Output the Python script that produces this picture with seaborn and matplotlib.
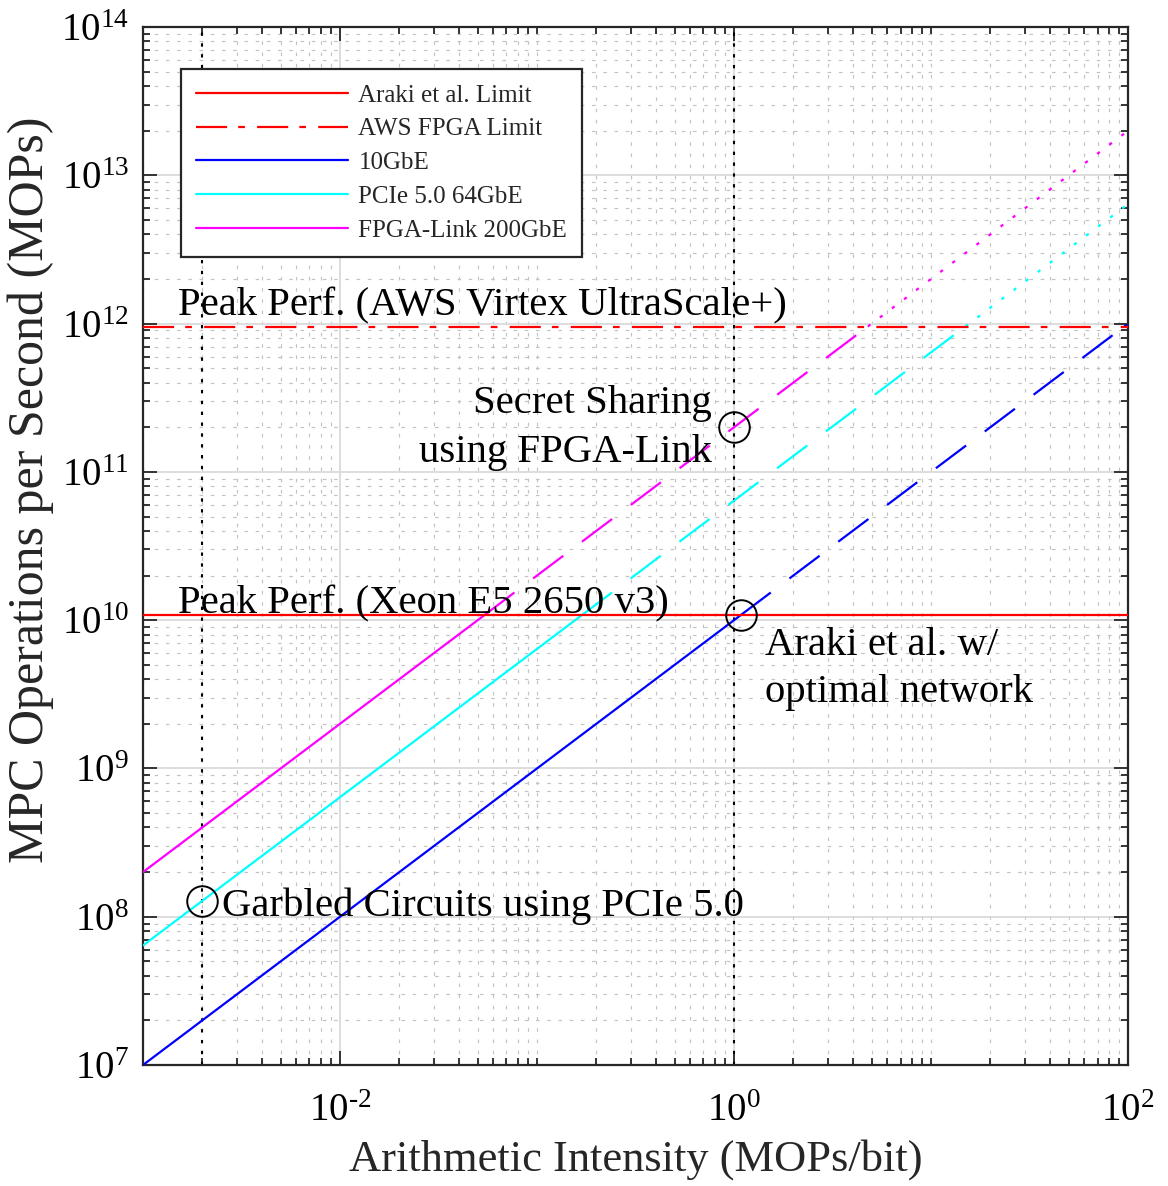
import numpy as np
import pandas as pd
import matplotlib
matplotlib.use('Agg')
import matplotlib.pyplot as plt
import matplotlib.ticker as mticker
from matplotlib.lines import Line2D
import seaborn as sns

# axis ranges
x_range = [1e-3, 1e2]
y_range = [1e7, 1e14]

# network roofline end points (value at x=1e-3 and at x=1e2)
network_names = ['10GbE', 'PCIe 5.0 64GbE', 'FPGA-Link 200GbE']
network_colors = ['#0000ff', '#00ffff', '#ff00ff']
network_y_start = [1e7, 6.4e7, 2e8]
network_y_end = [1e12, 6.4e12, 2e13]

# compute ceilings
araki_limit = 1.08e10
aws_limit = 9.55e11

# highlighted points and reference verticals
marker_x = [2e-3, 1.0, 1.08]
marker_y = [1.28e8, 2e11, 1.08e10]
vline_x = [2e-3, 1.0]


def cross_x(x0, y0, x1, y1, level):
    # x where the straight log-log line reaches a given y level
    t = np.log10(level / y0) / np.log10(y1 / y0)
    return 10 ** (np.log10(x0) + t * (np.log10(x1) - np.log10(x0)))


def build_segments():
    rows = []
    for name, y0, y1 in zip(network_names, network_y_start, network_y_end):
        x0, x1 = x_range
        xa = cross_x(x0, y0, x1, y1, araki_limit)
        xb = min(cross_x(x0, y0, x1, y1, aws_limit), x1)
        pieces = [(x0, xa, 'solid'), (xa, xb, 'dashed')]
        if xb < x1:
            pieces.append((xb, x1, 'dotted'))
        for i, (sa, sb, kind) in enumerate(pieces):
            for xx in (sa, sb):
                yy = 10 ** (np.log10(y0) + np.log10(xx / x0) / np.log10(x1 / x0) * np.log10(y1 / y0))
                rows.append({'network': name, 'seg': name + str(i), 'kind': kind, 'x': xx, 'y': yy})
    return pd.DataFrame(rows)


def pow_label(v, pos):
    e = int(round(np.log10(v)))
    if e < 0:
        return r'$10^{\text{-}%d}$' % (-e)
    return r'$10^{%d}$' % e


if __name__ == '__main__':
    sns.set_style('ticks')
    plt.rcParams['font.family'] = ['Liberation Serif', 'DejaVu Serif']
    plt.rcParams['mathtext.fontset'] = 'custom'
    plt.rcParams['mathtext.rm'] = 'Liberation Serif'
    plt.rcParams['mathtext.it'] = 'Liberation Serif:italic'
    plt.rcParams['mathtext.default'] = 'regular'

    fig = plt.figure(figsize=(11.68, 11.86), dpi=100)
    ax = fig.add_axes([0.1224, 0.1020, 0.8434, 0.8752])
    ax.set_xscale('log')
    ax.set_yscale('log')

    df = build_segments()
    sns.lineplot(data=df, x='x', y='y', hue='network', style='kind', units='seg',
                 estimator=None, sort=False, palette=dict(zip(network_names, network_colors)),
                 dashes={'solid': '', 'dashed': (17, 10.5), 'dotted': (1.5, 5.3)},
                 linewidth=1.6, legend=False, ax=ax, zorder=3)

    ax.axhline(araki_limit, color='#ff0000', lw=1.6, zorder=3)
    ax.axhline(aws_limit, color='#ff0000', lw=1.6, dashes=(14, 5, 3, 5.5), zorder=3)
    for xv in vline_x:
        ax.axvline(xv, color='black', lw=1.5, dashes=(1.6, 3.6), zorder=2)

    ax.plot(marker_x, marker_y, 'o', mfc='none', mec='black', ms=22, mew=1.4, ls='none', zorder=4)

    txt = dict(fontsize=29.3, color='black', zorder=5)
    ax.text(1.5e-3, 1.14e12, 'Peak Perf. (AWS Virtex UltraScale+)', ha='left', va='baseline', **txt)
    ax.text(1.5e-3, 1.11e10, 'Peak Perf. (Xeon E5 2650 v3)', ha='left', va='baseline', **txt)
    ax.text(0.773, 2.49e11, 'Secret Sharing', ha='right', va='baseline', **txt)
    ax.text(0.773, 1.165e11, 'using FPGA-Link', ha='right', va='baseline', **txt)
    ax.text(1.436, 5.82e9, 'Araki et al. w/', ha='left', va='baseline', **txt)
    ax.text(1.436, 2.8e9, 'optimal network', ha='left', va='baseline', **txt)
    ax.text(2.52e-3, 1.01e8, 'Garbled Circuits using PCIe 5.0', ha='left', va='baseline', **txt)

    ax.set_xlim(x_range)
    ax.set_ylim(y_range)

    x_major = [1e-2, 1e0, 1e2]
    x_minor = [k * 10.0 ** n for n in range(-3, 2) for k in range(1, 10) if k * 10.0 ** n not in x_major]
    y_major = [10.0 ** n for n in range(7, 15)]
    y_minor = [k * 10.0 ** n for n in range(7, 14) for k in range(2, 10)]
    ax.xaxis.set_major_locator(mticker.FixedLocator(x_major))
    ax.xaxis.set_minor_locator(mticker.FixedLocator(x_minor))
    ax.xaxis.set_major_formatter(mticker.FuncFormatter(pow_label))
    ax.xaxis.set_minor_formatter(mticker.NullFormatter())
    ax.yaxis.set_major_locator(mticker.FixedLocator(y_major))
    ax.yaxis.set_minor_locator(mticker.FixedLocator(y_minor))
    ax.yaxis.set_major_formatter(mticker.FuncFormatter(pow_label))
    ax.yaxis.set_minor_formatter(mticker.NullFormatter())

    ax.grid(which='major', color='#dadada', lw=1.3, ls='-', zorder=0)
    ax.grid(which='minor', color='#c2c2c2', lw=0.85, ls=(0, (3, 6.5)), zorder=0)
    ax.set_axisbelow(True)

    ax.tick_params(which='both', direction='in', top=True, right=True, colors='#262626',
                   width=1.3, labelcolor='black')
    ax.tick_params(which='major', length=10, labelsize=28, pad=10)
    ax.tick_params(axis='x', which='major', pad=20)
    ax.tick_params(which='minor', length=5)
    for sp in ax.spines.values():
        sp.set_color('#262626')
        sp.set_linewidth(1.6)

    ax.set_xlabel('Arithmetic Intensity (MOPs/bit)', fontsize=32)
    ax.xaxis.set_label_coords(0.5, -0.071)
    ax.set_ylabel('MPC Operations per Second (MOPs)', fontsize=36)
    ax.yaxis.set_label_coords(-0.09, 0.554)

    handles = [Line2D([], [], color='#ff0000', lw=1.6),
               Line2D([], [], color='#ff0000', lw=1.6, dashes=(14, 5, 3, 5.5))]
    handles += [Line2D([], [], color=c, lw=1.6) for c in network_colors]
    labels = ['Araki et al. Limit', 'AWS FPGA Limit'] + network_names
    leg = ax.legend(handles, labels, loc='upper left', bbox_to_anchor=(0.0386, 0.9595),
                    borderaxespad=0, fontsize=18, handlelength=6.1, handletextpad=0.4,
                    labelspacing=0.45, borderpad=0.6, fancybox=False, framealpha=1)
    leg.get_frame().set_edgecolor('#262626')
    leg.get_frame().set_linewidth(1.6)
    leg.set_zorder(6)

    plt.savefig('out.png', dpi=100)
